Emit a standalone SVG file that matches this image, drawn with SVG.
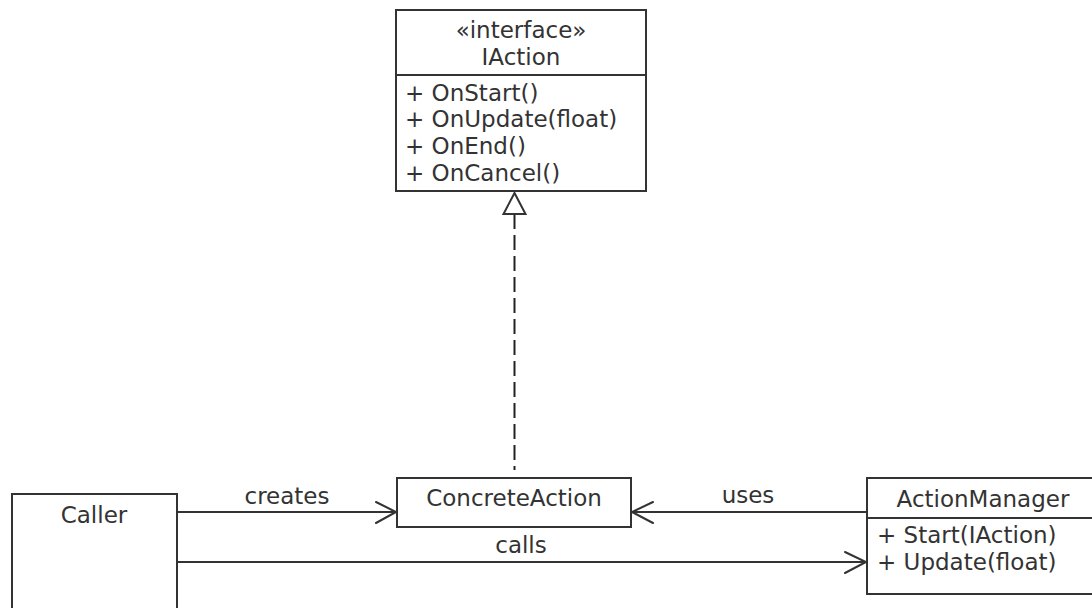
<svg xmlns="http://www.w3.org/2000/svg" width="1092" height="608" viewBox="0 0 1092 608">
<style>
text{font-family:"DejaVu Sans",sans-serif;font-size:23px;fill:#333}
.c{text-anchor:middle}
.box{fill:#fff;stroke:#333;stroke-width:2}
.ln{fill:none;stroke:#333;stroke-width:2}
.dash{fill:none;stroke:#222;stroke-width:2;stroke-dasharray:15 6}
.head{fill:none;stroke:#333;stroke-width:2;stroke-linecap:round;stroke-linejoin:miter}
.tri{fill:#fff;stroke:#333;stroke-width:2}
</style>
<rect width="1092" height="608" fill="#fff"/>
<g id="IAction">
<rect class="box" x="396" y="10" width="250" height="181"/>
<line class="ln" x1="396" y1="75" x2="646" y2="75"/>
<text class="c" x="521" y="38">«interface»</text>
<text class="c" x="521" y="65">IAction</text>
<text x="405" y="101">+ OnStart()</text>
<text x="405" y="127">+ OnUpdate(float)</text>
<text x="405" y="154">+ OnEnd()</text>
<text x="405" y="181">+ OnCancel()</text>
</g>
<g id="Caller">
<rect class="box" x="12" y="494" width="165" height="130"/>
<text class="c" x="94" y="523">Caller</text>
</g>
<g id="ConcreteAction">
<rect class="box" x="397" y="478" width="234" height="49"/>
<text class="c" x="514" y="506">ConcreteAction</text>
</g>
<g id="ActionManager">
<rect class="box" x="867" y="478" width="232" height="116"/>
<line class="ln" x1="867" y1="518" x2="1099" y2="518"/>
<text class="c" x="983" y="507">ActionManager</text>
<text x="877" y="543">+ Start(IAction)</text>
<text x="877" y="570">+ Update(float)</text>
</g>
<g id="connectors">
<line class="dash" x1="514.5" y1="214" x2="514.5" y2="470"/>
<polygon class="tri" points="514.5,193 503.5,214 525.5,214"/>
<line class="ln" x1="177" y1="512" x2="396" y2="512"/>
<polyline class="head" points="376,502 396,512 376,523"/>
<text class="c" x="287" y="504">creates</text>
<line class="ln" x1="867" y1="512" x2="632" y2="512"/>
<polyline class="head" points="653,502 632,512 653,523"/>
<text class="c" x="748" y="503">uses</text>
<line class="ln" x1="177" y1="562" x2="866" y2="562"/>
<polyline class="head" points="845,552 866,562 845,573"/>
<text class="c" x="521" y="553">calls</text>
</g>
</svg>
